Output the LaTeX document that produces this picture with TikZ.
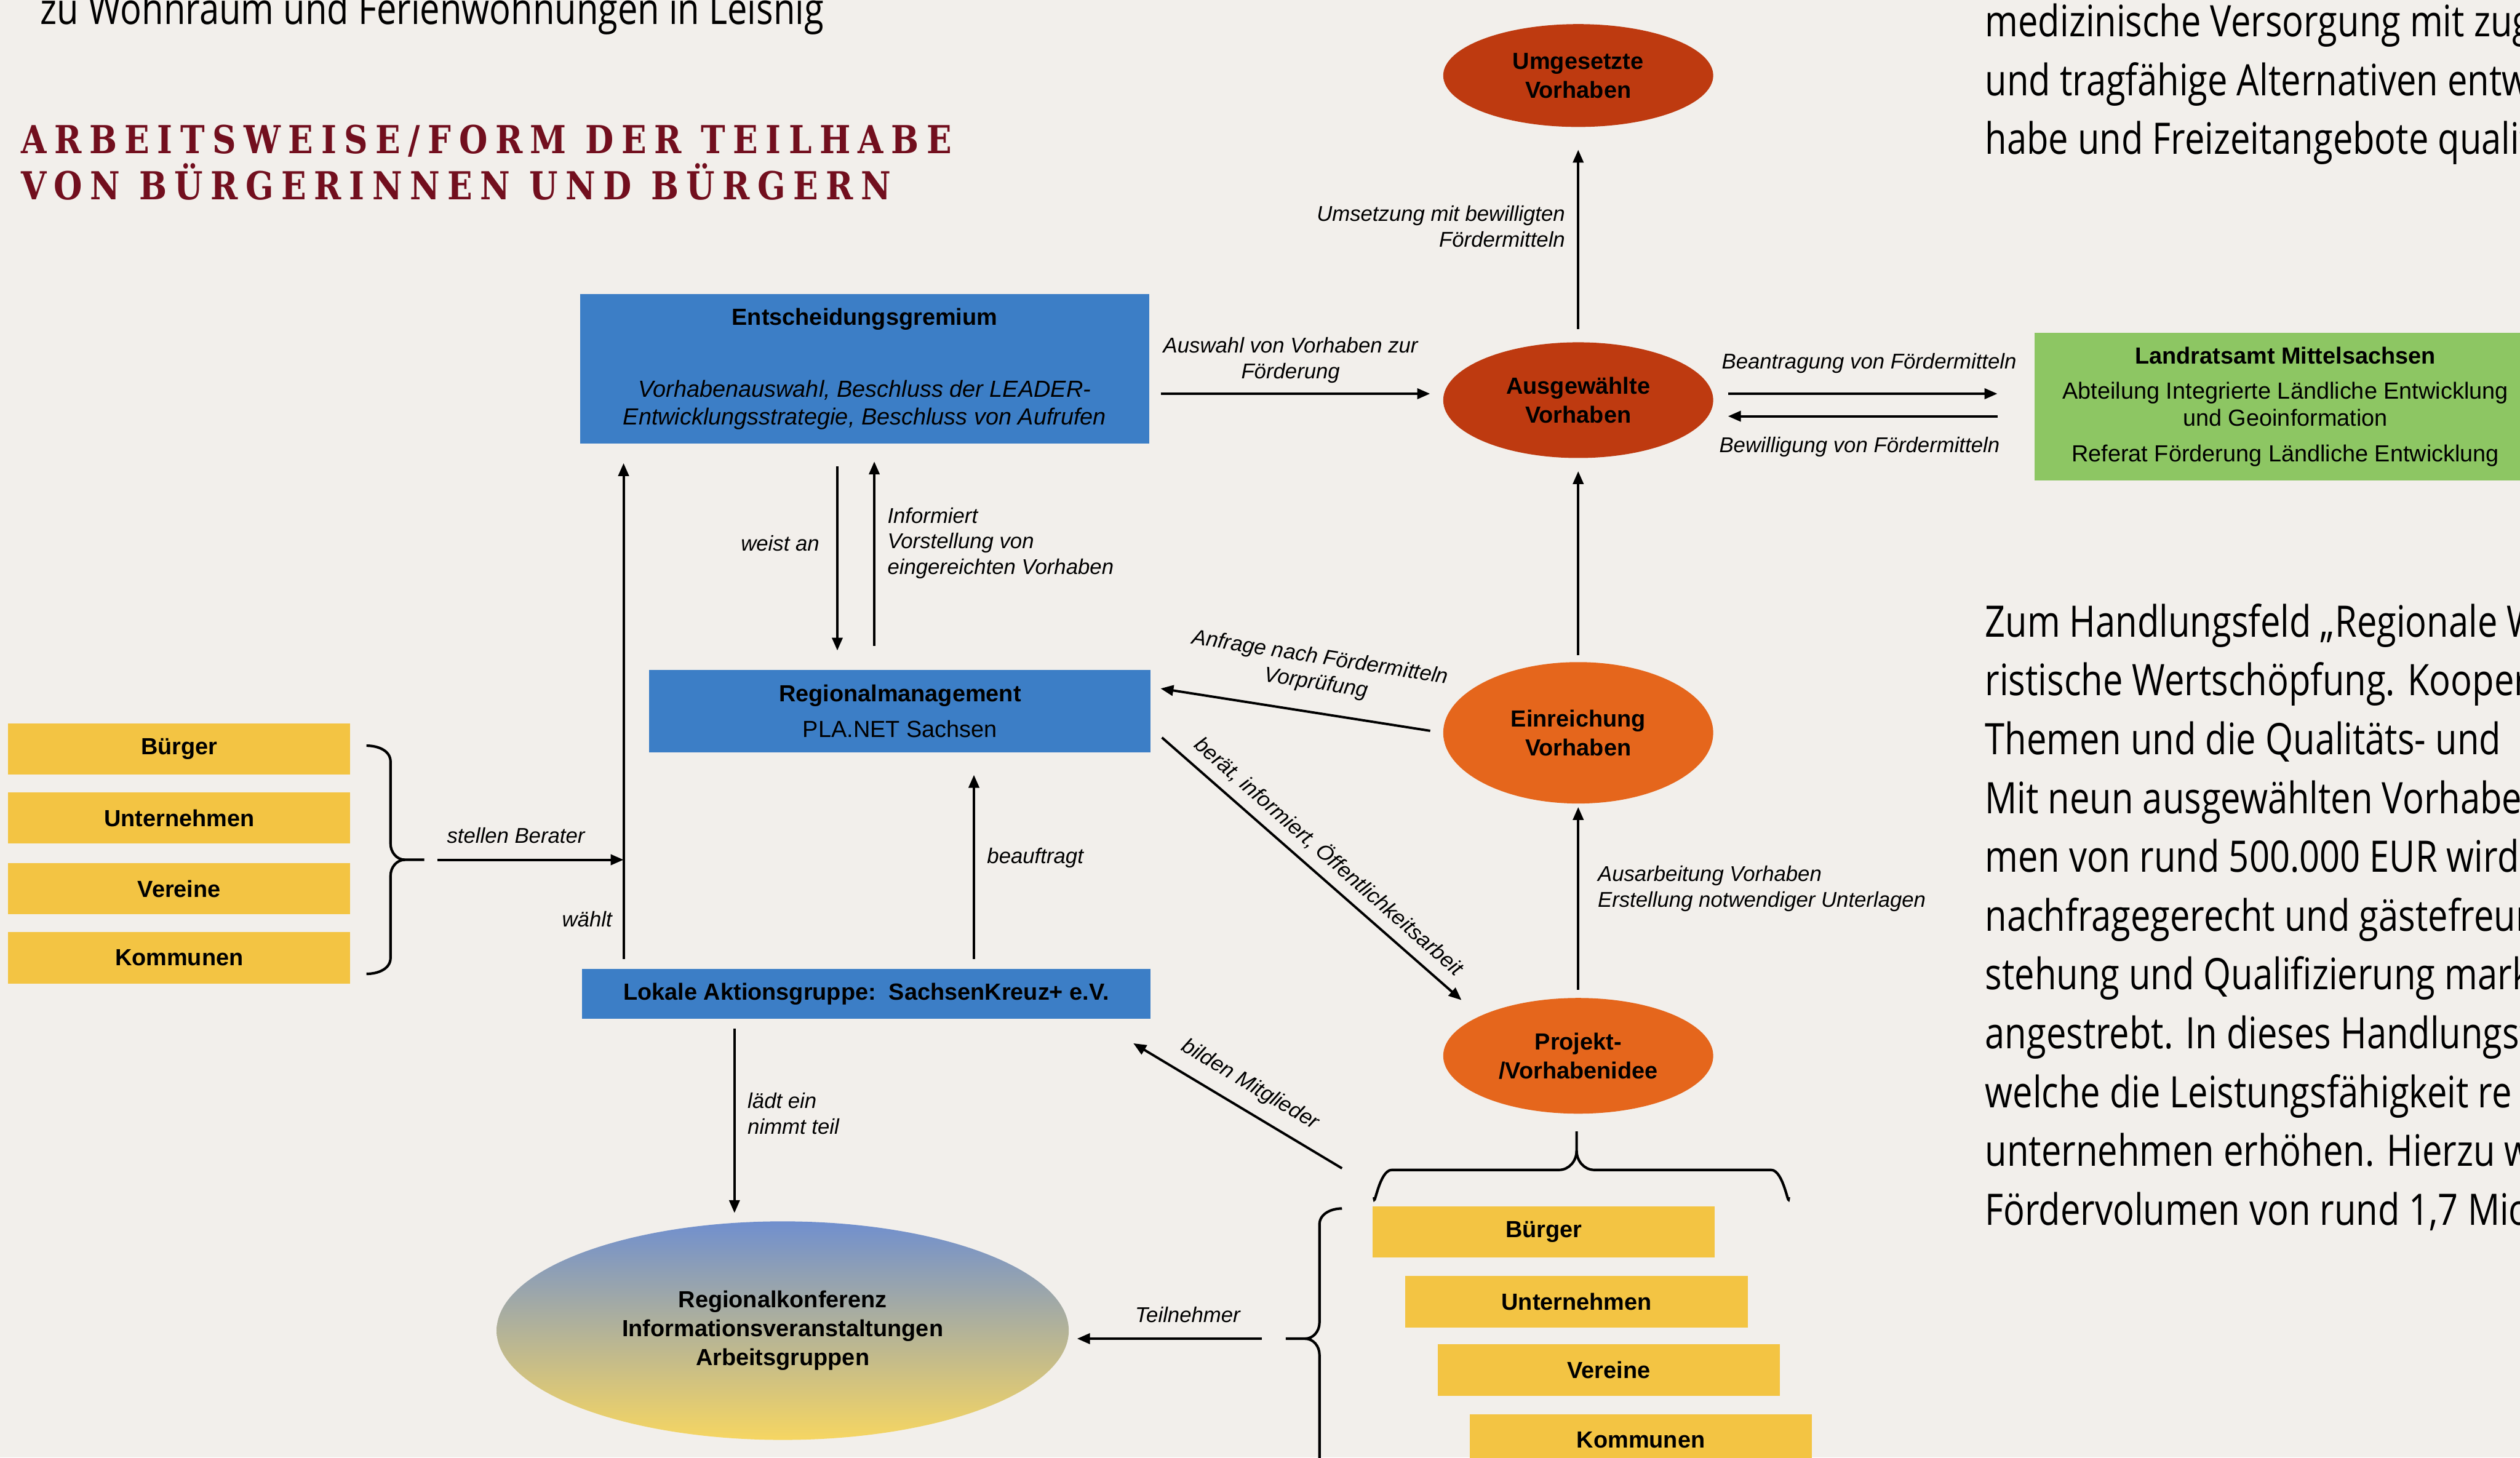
\documentclass[tikz,border=0pt]{standalone}
\usepackage{fontspec}
\setmainfont{Liberation Sans}
\newfontfamily\titelfont[LetterSpace=20,FakeStretch=0.85]{DejaVu Serif}
\newfontfamily\fliesstext[FakeStretch=0.82]{Open Sans}
\usetikzlibrary{shapes.geometric, arrows.meta}

\definecolor{hinter}{RGB}{242,239,235}
\definecolor{lblau}{RGB}{60,126,198}
\definecolor{gelb}{RGB}{243,196,67}
\definecolor{gruen}{RGB}{141,198,99}
\definecolor{rotbraun}{RGB}{190,58,16}
\definecolor{hellorange}{RGB}{229,102,28}
\definecolor{titelrot}{RGB}{114,15,30}
\definecolor{kblau}{RGB}{112,143,206}
\definecolor{kgelb}{RGB}{246,214,98}

\tikzset{
  kasten/.style={fill=lblau, align=center, inner sep=0pt, font=\fontsize{14.5}{17}\selectfont},
  gruppe/.style={fill=gelb, minimum width=213pt, minimum height=32pt, inner sep=0pt, font=\bfseries\fontsize{14.5}{17}\selectfont},
  oval/.style={ellipse, minimum width=168pt, inner sep=0pt, align=center, font=\bfseries\fontsize{14.5}{18}\selectfont},
  pfeil/.style={-{Triangle[length=8pt,width=6.5pt]}, line width=1.5pt},
  pfeilr/.style={{Triangle[length=8pt,width=6.5pt]}-, line width=1.5pt},
  notiz/.style={font=\itshape\fontsize{13.3}{16}\selectfont, inner sep=0pt},
  klammer/.style={line width=1.6pt},
  fliess/.style={font=\fliesstext\fontsize{27}{36.6}\selectfont, inner sep=0pt},
  titel/.style={font=\titelfont\bfseries\fontsize{24}{29}\selectfont, text=titelrot, inner sep=0pt}
}

\begin{document}
\begin{tikzpicture}[x=1pt, y=-1pt]
\useasboundingbox (0,0) rectangle (1568,907);
\fill[hinter] (0,0) rectangle (1568,907);

% Seitentext
\node[fliess, anchor=base west] (kopf) at (25,15) {zu Wohnraum und Ferienwohnungen in Leisnig};
\node[titel, anchor=base west] (titel1) at (13,95.4) {ARBEITSWEISE/FORM DER TEILHABE};
\node[titel, anchor=base west] (titel2) at (13,124.3) {VON BÜRGERINNEN UND BÜRGERN};
% base = Grundlinie der letzten Zeile
\node[fliess, anchor=base west, align=left] (spalte1) at (1235,96) {medizinische Versorgung mit zug\\und tragfähige Alternativen entw\\habe und Freizeitangebote qualif};
\node[fliess, anchor=base west, align=left] (spalte2) at (1235,762.3) {Zum Handlungsfeld „Regionale W\\ristische Wertschöpfung. Kooper\\Themen und die Qualitäts- und\\Mit neun ausgewählten Vorhabe\\men von rund 500.000 EUR wird\\nachfragegerecht und gästefreun\\stehung und Qualifizierung markt\\angestrebt. In dieses Handlungsfe\\welche die Leistungsfähigkeit re\\unternehmen erhöhen. Hierzu w\\Fördervolumen von rund 1,7 Mio};

% Kaesten
\node[kasten, minimum width=354pt, minimum height=93pt] (ent) at (538,229.5) {\textbf{Entscheidungsgremium}\\[28pt]\textit{Vorhabenauswahl, Beschluss der LEADER-}\\\textit{Entwicklungsstrategie, Beschluss von Aufrufen}};
\node[kasten, minimum width=312pt, minimum height=51pt] (rm) at (560,442.5) {\textbf{Regionalmanagement}\\[5pt]PLA.NET Sachsen};
\node[kasten, minimum width=354pt, minimum height=31pt] (lag) at (539,618.5) {\textbf{Lokale Aktionsgruppe:\ \ SachsenKreuz+ e.V.}};
\node[kasten, fill=gruen, minimum width=312pt, minimum height=92pt] (lra) at (1422,253) {\textbf{Landratsamt Mittelsachsen}\\[5pt]Abteilung Integrierte Ländliche Entwicklung\\und Geoinformation\\[5pt]Referat Förderung Ländliche Entwicklung};

% Ovale
\node[oval, fill=rotbraun, minimum height=64pt] (umg) at (982,47) {Umgesetzte\\Vorhaben};
\node[oval, fill=rotbraun, minimum height=72pt] (ausg) at (982,249) {Ausgewählte\\Vorhaben};
\node[oval, fill=hellorange, minimum height=88pt] (ein) at (982,456) {Einreichung\\Vorhaben};
\node[oval, fill=hellorange, minimum height=72pt] (proj) at (982,657) {Projekt-\\/Vorhabenidee};
\node[oval, minimum width=356pt, minimum height=136pt, top color=kblau, bottom color=kgelb] (konf) at (487,828) {Regionalkonferenz\\Informationsveranstaltungen\\Arbeitsgruppen};

% Gruppen links
\node[gruppe] (b1) at (111.5,466) {Bürger};
\node[gruppe] (u1) at (111.5,509) {Unternehmen};
\node[gruppe] (v1) at (111.5,553) {Vereine};
\node[gruppe] (k1) at (111.5,596) {Kommunen};
% Gruppen unten
\node[gruppe] (b2) at (960.5,766.5) {Bürger};
\node[gruppe] (u2) at (981,810) {Unternehmen};
\node[gruppe] (v2) at (1001,852.5) {Vereine};
\node[gruppe] (k2) at (1021,896) {Kommunen};

% Klammern
\coordinate (bl) at (264,535);
\coordinate (kt) at (800,833);
\coordinate (kl) at (835,727);
\draw[klammer] (228,464) to[out=0,in=90] (243,474) -- (243,525) to[out=-90,in=180] (252,535) -- (bl);
\draw[klammer] (252,535) to[out=180,in=90] (243,545) -- (243,596) to[out=-90,in=0] (228,606);
\draw[klammer] (855,745) to[out=-90,in=180] (866,728) -- (970,728) to[out=0,in=-90] (981,716) -- (981,704);
\draw[klammer] (981,716) to[out=-90,in=180] (992,728) -- (1102,728) to[out=0,in=-90] (1113,745);
\draw[klammer] (835,752) to[out=180,in=90] (821,762) -- (821,823) to[out=-90,in=0] (812,833) -- (kt);
\draw[klammer] (812,833) to[out=0,in=90] (821,843) -- (821,920);

% Pfeile oben
\draw[pfeil, shorten <=7pt, shorten >=8pt] ([yshift=4pt]ent.east |- ausg.west) -- ([yshift=4pt]ausg.west);
\node[notiz, align=center] (l_auswahl) at (803,224) {Auswahl von Vorhaben zur\\Förderung};
\draw[pfeil, shorten <=8pt, shorten >=14pt] (ausg.north) -- (umg.south);
\node[notiz, align=right, anchor=east] (l_umsetz) at (974,141) {Umsetzung mit bewilligten\\Fördermitteln};
\draw[pfeil, shorten <=9pt, shorten >=23pt] ([yshift=4pt]ausg.east) -- ([yshift=4pt]ausg.east -| lra.west);
\draw[pfeil, shorten <=23pt, shorten >=9pt] ([yshift=-10pt]ausg.east -| lra.west) -- ([yshift=-10pt]ausg.east);
\node[notiz] (l_beantr) at (1163,226) {Beantragung von Fördermitteln};
\node[notiz] (l_bewill) at (1157,278) {Bewilligung von Fördermitteln};

% Pfeile Mitte
\draw[pfeil, shorten <=4pt, shorten >=8pt] (ein.north) -- (ausg.south);
\draw[pfeil, shorten <=5pt, shorten >=2pt] (proj.north) -- (ein.south);
\node[notiz, anchor=west, align=left] (l_ausarb) at (994,553) {Ausarbeitung Vorhaben\\Erstellung notwendiger Unterlagen};
\draw[pfeilr, shorten <=6pt, shorten >=8pt] ([yshift=15pt]rm.east) -- (ein.west) node[notiz, align=center, sloped, above=11pt, pos=0.55] (l_anfrage) {Anfrage nach Fördermitteln\\Vorprüfung};
\draw[pfeil, shorten <=9pt, shorten >=15pt] ([yshift=-10.5pt]rm.east) -- (proj.158) node[notiz, sloped, above=6pt, midway] (l_beraet) {berät, informiert, Öffentlichkeitsarbeit};
\draw[pfeilr] ([xshift=-11pt,yshift=-15pt]lag.south east) -- (kl) node[notiz, sloped, above=8pt, midway] (l_bilden) {bilden Mitglieder};

% Pfeile links
\draw[pfeil, shorten <=14pt, shorten >=12pt] ([xshift=-17pt]ent.south) -- ([xshift=-17pt]ent.south |- rm.north);
\node[notiz, anchor=east] (l_weist) at (510,338) {weist an};
\draw[pfeil, shorten <=15pt, shorten >=11pt] ([xshift=6pt]ent.south |- rm.north) -- ([xshift=6pt]ent.south);
\node[notiz, anchor=west, align=left] (l_info) at (552,338) {Informiert\\Vorstellung von\\eingereichten Vorhaben};
\coordinate (wl) at ([xshift=-151pt]lag.north);
\draw[pfeil, shorten <=6pt, shorten >=12pt] (wl) -- (wl |- ent.south);
\node[notiz, anchor=east] (l_waehlt) at (381,572) {wählt};
\draw[pfeil, shorten <=8pt] (bl) -- (bl -| wl);
\node[notiz] (l_berater) at (321,520) {stellen Berater};
\draw[pfeil, shorten <=6pt, shorten >=14pt] ([xshift=67pt]lag.north) -- ([xshift=67pt]lag.north |- rm.south);
\node[notiz, anchor=west] (l_beauftr) at (614,534) {beauftragt};
\draw[pfeil, shorten <=6pt, shorten >=5pt] ([xshift=-82pt]lag.south) -- ([xshift=-82pt]lag.south |- konf.north);
\node[notiz, anchor=west, align=left] (l_laedt) at (465,693) {lädt ein\\nimmt teil};
\draw[pfeilr, shorten <=5pt, shorten >=15pt] (konf.east |- kt) -- (kt);
\node[notiz] (l_teiln) at (739,818) {Teilnehmer};
\end{tikzpicture}
\end{document}
